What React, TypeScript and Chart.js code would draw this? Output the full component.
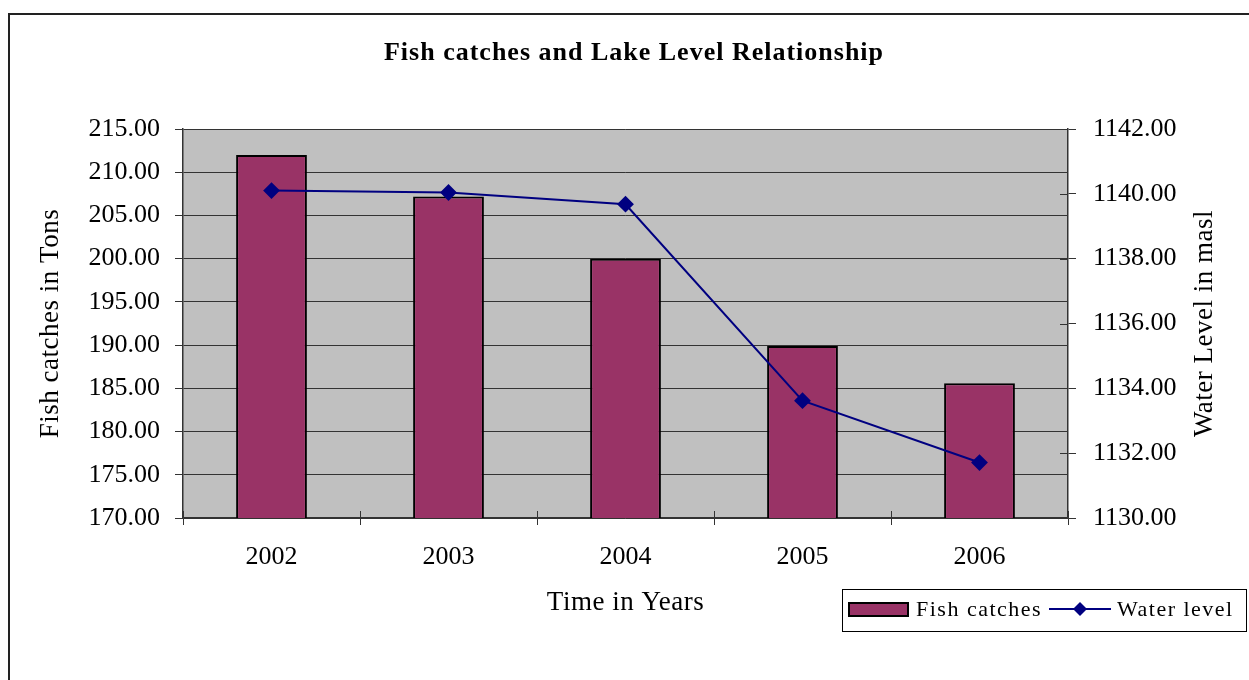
import React, { useEffect, useRef } from "react";
import { Chart, registerables } from "chart.js";
Chart.register(...registerables);

const categories = ["2002", "2003", "2004", "2005", "2006"];
const fishCatches = [212.0, 207.2, 200.0, 189.9, 185.6];
const waterLevel = [1140.1, 1140.04, 1139.68, 1133.62, 1131.71];
const leftAxis = { min: 170, max: 215, step: 5 };
const rightAxis = { min: 1130, max: 1142, step: 2 };

const chartTitle = "Fish catches and Lake Level Relationship";
const xTitle = "Time in Years";
const yLeftTitle = "Fish catches in Tons";
const yRightTitle = "Water Level in masl";
const seriesNames = ["Fish catches", "Water level"];

const SERIF = "'Liberation Serif', 'Times New Roman', serif";
const BAR_COLOR = "#993366";
const LINE_COLOR = "#000080";
const AXIS_COLOR = "#333333";

function diamond(ctx: CanvasRenderingContext2D, x: number, y: number, r: number) {
  ctx.beginPath();
  ctx.moveTo(x, y - r);
  ctx.lineTo(x + r, y);
  ctx.lineTo(x, y + r);
  ctx.lineTo(x - r, y);
  ctx.closePath();
  ctx.fill();
}

const decor = {
  id: "decor",
  beforeDraw(chart: any) {
    const { ctx, chartArea: a } = chart;
    ctx.save();
    ctx.fillStyle = "#ffffff";
    ctx.fillRect(0, 0, chart.width, chart.height);
    ctx.fillStyle = "#C0C0C0";
    ctx.fillRect(a.left, a.top, a.right - a.left, a.bottom - a.top);
    ctx.restore();
  },
  afterDraw(chart: any) {
    const { ctx, chartArea: a } = chart;
    const xs = chart.scales.x;
    const y1 = chart.scales.y1;
    ctx.save();

    // outer frame
    ctx.strokeStyle = "#222";
    ctx.lineWidth = 2;
    ctx.strokeRect(9, 14, chart.width + 50, chart.height + 50);

    // inner halves of crossing tick marks (x axis and right axis)
    ctx.strokeStyle = AXIS_COLOR;
    ctx.lineWidth = 1;
    const n = categories.length;
    for (let i = 0; i <= n; i++) {
      const px = Math.round(xs.getPixelForValue(i - 0.5)) + 0.5;
      ctx.beginPath();
      ctx.moveTo(px, a.bottom);
      ctx.lineTo(px, a.bottom - 7);
      ctx.stroke();
    }
    for (let v = rightAxis.min; v <= rightAxis.max; v += rightAxis.step) {
      const py = Math.round(y1.getPixelForValue(v)) + 0.5;
      ctx.beginPath();
      ctx.moveTo(a.right, py);
      ctx.lineTo(a.right - 8, py);
      ctx.stroke();
    }

    // title
    ctx.fillStyle = "#000";
    ctx.textAlign = "center";
    ctx.textBaseline = "middle";
    (ctx as any).letterSpacing = "1px";
    ctx.font = `bold 26px ${SERIF}`;
    ctx.fillText(chartTitle, 634, 53);

    // axis titles
    (ctx as any).letterSpacing = "0.5px";
    ctx.font = `27px ${SERIF}`;
    ctx.fillText(xTitle, (a.left + a.right) / 2, 603);
    const midY = (a.top + a.bottom) / 2;
    ctx.save();
    ctx.translate(51, midY);
    ctx.rotate(-Math.PI / 2);
    ctx.fillText(yLeftTitle, 0, 0);
    ctx.restore();
    ctx.save();
    ctx.translate(1205, midY);
    ctx.rotate(-Math.PI / 2);
    ctx.fillText(yRightTitle, 0, 0);
    ctx.restore();

    // legend
    ctx.strokeStyle = "#000";
    ctx.lineWidth = 1;
    ctx.strokeRect(842.5, 589.5, 404, 42);
    ctx.fillStyle = BAR_COLOR;
    ctx.fillRect(849, 603, 59, 13);
    ctx.lineWidth = 2;
    ctx.strokeRect(849, 603, 59, 13);
    ctx.fillStyle = "#000";
    ctx.textAlign = "left";
    (ctx as any).letterSpacing = "1.5px";
    ctx.font = `22px ${SERIF}`;
    ctx.fillText(seriesNames[0], 916, 610);
    ctx.strokeStyle = LINE_COLOR;
    ctx.lineWidth = 2;
    ctx.beginPath();
    ctx.moveTo(1049, 609);
    ctx.lineTo(1111, 609);
    ctx.stroke();
    ctx.fillStyle = LINE_COLOR;
    diamond(ctx, 1080, 609, 7);
    ctx.fillStyle = "#000";
    ctx.fillText(seriesNames[1], 1117, 610);
    ctx.restore();
  },
};

export default function App() {
  const ref = useRef<HTMLCanvasElement | null>(null);
  useEffect(() => {
    if (!ref.current) return;
    const tickFont = { family: SERIF, size: 26, lineHeight: 1 };
    const chart = new Chart(ref.current, {
      type: "bar",
      data: {
        labels: categories,
        datasets: [
          {
            type: "line",
            label: seriesNames[1],
            data: waterLevel,
            yAxisID: "y1",
            borderColor: LINE_COLOR,
            backgroundColor: LINE_COLOR,
            borderWidth: 2,
            pointStyle: "rectRot",
            pointRadius: 7,
            pointBackgroundColor: LINE_COLOR,
            pointBorderColor: LINE_COLOR,
            tension: 0,
            order: 0,
          } as any,
          {
            type: "bar",
            label: seriesNames[0],
            data: fishCatches,
            yAxisID: "y",
            backgroundColor: BAR_COLOR,
            borderColor: "#000",
            borderWidth: 2,
            borderSkipped: false,
            barPercentage: 0.4,
            categoryPercentage: 1,
            order: 1,
          } as any,
        ],
      },
      options: {
        animation: false,
        responsive: false,
        maintainAspectRatio: false,
        devicePixelRatio: 1,
        layout: { padding: { top: 129, bottom: 62, left: 0, right: 0 } },
        plugins: { legend: { display: false }, title: { display: false }, tooltip: { enabled: false } },
        scales: {
          x: {
            offset: true,
            grid: { display: true, drawOnChartArea: false, offset: true, tickLength: 7, color: AXIS_COLOR, tickColor: AXIS_COLOR },
            border: { display: true, color: AXIS_COLOR, width: 1.5 },
            ticks: { font: tickFont, color: "#000", padding: 19, maxRotation: 0 },
            afterFit: (s: any) => { s.height = 100; },
          },
          y: {
            position: "left",
            min: leftAxis.min,
            max: leftAxis.max,
            grid: { color: AXIS_COLOR, tickLength: 8, tickColor: AXIS_COLOR },
            border: { display: true, color: AXIS_COLOR, width: 1.5 },
            ticks: { stepSize: leftAxis.step, font: tickFont, color: "#000", padding: 15, callback: (v: any) => Number(v).toFixed(2) },
            afterFit: (s: any) => { s.width = 183; },
          },
          y1: {
            position: "right",
            min: rightAxis.min,
            max: rightAxis.max,
            grid: { drawOnChartArea: false, tickLength: 8, color: AXIS_COLOR, tickColor: AXIS_COLOR },
            border: { display: true, color: AXIS_COLOR, width: 1.5 },
            ticks: { stepSize: rightAxis.step, font: tickFont, color: "#000", padding: 17, callback: (v: any) => Number(v).toFixed(2) },
            afterFit: (s: any) => { s.width = 181; },
          },
        },
      } as any,
      plugins: [decor],
    });
    return () => chart.destroy();
  }, []);
  return (
    <div style={{ position: "fixed", left: 0, top: 0, width: 1249, height: 680, background: "#fff" }}>
      <canvas ref={ref} width={1249} height={680} style={{ display: "block" }} />
    </div>
  );
}
